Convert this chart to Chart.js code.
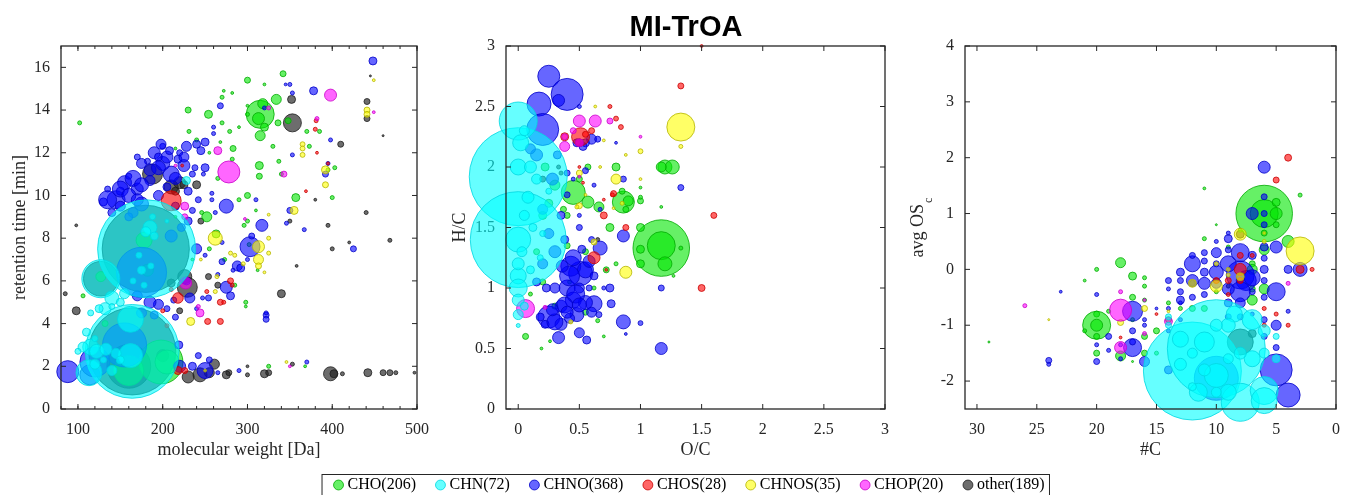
<!DOCTYPE html>
<html>
<head>
<meta charset="utf-8">
<script src="https://cdn.jsdelivr.net/npm/chart.js"></script>
<style>
  body { margin: 0; background: #fff; }
  #wrap { position: relative; width: 1351px; height: 495px; overflow: hidden; }
  canvas { position: absolute; top: 0; }
</style>
</head>
<body>
<div id="wrap">
  <canvas id="head" width="1330" height="60" style="left:21px"></canvas>
  <canvas id="foot" width="1330" height="503" style="left:26px"></canvas>
  <canvas id="p1" width="440" height="470" style="left:0"></canvas>
  <canvas id="p2" width="460" height="470" style="left:440px"></canvas>
  <canvas id="p3" width="451" height="470" style="left:900px"></canvas>
</div>
<script>
// groups (legend order)
const groupNames = ['CHO(206)', 'CHN(72)', 'CHNO(368)', 'CHOS(28)', 'CHNOS(35)', 'CHOP(20)', 'other(189)'];

// panel 1: [molecular weight, retention time, intensity]
const rtCHO = [[315,13.8,196],[318,14.3,25],[313,13.6,36],[315,12.8,25],[320,13.2,16],[334,14.5,25],[342,15.7,9],[300,15.4,9],[254,13.8,16],[230,14.0,9],[231,13.0,4],[270,14.6,4],[272,14.9,2],[282,14.8,2],[102,13.4,4],[336,13.4,9],[348,13.5,9],[314,11.4,16],[314,10.9,9],[357,9.9,16],[330,12.3,4],[337,11.6,4],[340,11.0,4],[283,12.2,9],[282,11.7,4],[279,13.0,4],[300,13.8,4],[290,9.8,4],[300,10.0,9],[252,9.0,25],[263,8.2,16],[296,8.6,4],[302,7.7,4],[273,7.0,4],[255,7.5,4],[298,5.0,4],[285,5.8,4],[370,13.0,4],[385,13.0,4],[373,12.3,4],[395,11.2,4],[403,11.3,4],[400,9.9,4],[106,5.3,4],[215,12.2,2],[240,12.6,4],[265,10.8,4],[246,9.2,4],[198,2.2,480],[160,1.8,225],[205,2.2,144],[178,7.9,64],[182,6.5,36],[127,6.2,25],[132,4.0,9],[300,8.8,4],[310,9.3,2],[325,2.0,4],[368,2.0,2],[268,12.5,2],[270,13.4,4],[290,13.2,2],[255,12.0,2],[300,14.2,2],[320,15.2,2],[312,6.5,2],[298,4.8,2],[235,7.0,2],[215,9.0,2]];
const rtCHN = [[181,7.5,2400],[164,2.7,2200],[127,6.1,361],[162,4.2,169],[113,1.7,169],[162,2.5,144],[140,5.2,49],[132,4.7,36],[115,2.9,64],[122,2.7,49],[133,2.8,36],[145,2.6,25],[185,8.5,49],[180,8.3,25],[190,8.1,16],[175,6.5,16],[165,6.0,9],[186,6.7,9],[155,5.4,25],[150,5.0,16],[125,4.7,16],[106,2.9,25],[110,3.6,16],[120,2.1,25],[140,1.8,25],[228,10.7,16],[172,7.2,9],[178,5.8,9],[150,2.3,16],[130,2.3,9],[100,2.7,9],[120,3.3,9],[140,4.8,9],[115,4.5,9],[205,8.8,4],[188,9.0,9]];
const rtCHNO = [[88,1.75,121],[114,1.6,100],[250,1.8,64],[303,7.6,100],[275,9.5,49],[145,9.8,81],[155,10.6,49],[170,10.3,36],[185,10.7,25],[190,12.0,36],[200,11.5,49],[210,11.0,64],[225,11.4,36],[228,12.3,25],[240,12.4,16],[245,12.1,16],[218,11.7,16],[200,12.3,9],[182,11.6,9],[160,10.9,9],[175,9.6,49],[165,9.2,25],[150,9.5,25],[140,9.2,16],[195,10.0,25],[205,10.4,16],[210,8.1,36],[175,6.4,625],[155,3.0,484],[120,2.2,225],[235,2.0,16],[242,2.5,9],[255,2.3,9],[220,2.0,36],[219,3.0,16],[265,1.7,4],[290,1.8,4],[370,2.2,4],[275,5.7,36],[280,5.3,16],[288,6.7,25],[292,6.6,16],[322,4.4,9],[322,4.2,9],[254,5.2,9],[270,6.9,9],[247,5.2,4],[265,6.3,4],[232,5.2,25],[228,6.0,16],[240,7.5,25],[270,7.8,4],[310,9.8,4],[317,8.6,36],[305,8.1,9],[346,8.7,4],[350,9.3,9],[367,8.4,4],[425,7.5,9],[392,11.0,9],[398,12.6,4],[353,11.9,4],[378,14.9,16],[448,16.3,16],[350,15.2,4],[238,11.3,9],[250,11.3,16],[260,13.2,4],[260,12.9,4],[250,12.5,16],[268,14.2,9],[258,10.1,4],[258,9.8,4],[262,9.2,4],[242,9.8,9],[230,8.8,16],[235,9.3,9],[215,4.3,9],[213,5.1,9],[205,4.7,9],[195,4.9,25],[185,5.0,36],[170,5.3,25],[175,4.5,25],[190,4.4,16],[220,12.0,9],[235,11.0,9],[230,10.2,16],[215,9.5,16],[222,8.5,16],[160,9.0,16],[130,9.7,16],[135,10.3,9],[150,10.2,16],[170,11.8,9],[195,11.8,16],[248,11.0,4],[283,6.5,4],[322,4.5,4],[345,15.2,2],[320,14.1,4],[353,14.8,4],[395,11.5,4],[240,4.7,4],[250,7.2,4],[300,7.0,4],[135,9.8,81],[150,10.3,64],[160,10.0,49],[165,10.8,64],[175,10.5,49],[185,11.2,36],[195,11.3,49],[205,11.8,36],[198,12.4,25],[175,11.5,25],[170,9.8,36],[215,10.8,36],[225,11.8,25],[208,12.1,16]];
const rtCHOS = [[210,9.75,100],[218,5.2,28],[218,1.8,16],[226,1.8,9],[253,4.1,9],[268,4.1,9],[268,5.0,9],[272,5.0,4],[252,5.5,4],[280,6.0,9],[282,5.8,4],[200,4.6,4],[380,13.1,4],[381,13.5,4],[369,10.2,2],[395,11.5,2],[382,12.0,2],[223,11.4,2],[210,5.6,4],[205,3.9,4]];
const rtCHNOS = [[262,8.0,49],[313,7.6,36],[313,7.0,25],[313,6.7,9],[355,9.3,16],[392,11.2,16],[392,10.5,9],[365,12.4,6],[365,12.2,6],[365,11.9,6],[441,14.0,9],[441,13.8,9],[449,15.4,2],[233,4.1,16],[285,7.2,4],[325,8.0,4],[325,7.3,4],[280,7.3,4],[320,6.4,2],[346,2.2,2],[250,1.8,2],[262,5.5,4],[264,6.2,4],[295,6.8,4],[325,9.1,2],[245,7.0,2]];
const rtCHOP = [[278,11.1,121],[398,14.7,36],[265,12.1,16],[343,11.0,9],[244,4.5,16],[226,9.5,16],[226,9.0,9],[227,5.9,36],[325,14.1,4],[382,13.6,4],[449,13.9,2],[350,2.0,2],[297,8.9,2],[242,4.8,4],[215,11.4,2]];
const rtOther = [[180,7.5,1900],[164,2.7,1900],[160,2.0,480],[127,6.1,300],[188,11.0,100],[210,10.4,49],[353,13.4,81],[352,14.5,16],[441,14.4,9],[441,13.6,9],[410,12.4,9],[229,5.7,100],[226,6.2,49],[98,4.6,16],[85,5.4,4],[98,8.6,2],[240,10.5,16],[220,10.6,36],[245,8.8,9],[254,6.2,9],[265,5.8,9],[340,5.4,16],[358,6.7,2],[380,9.8,2],[395,8.6,4],[400,7.5,4],[440,9.2,4],[468,7.9,4],[420,7.8,2],[350,8.8,4],[244,1.6,49],[255,1.7,25],[275,1.6,16],[278,1.7,9],[261,2.1,25],[300,1.6,4],[320,1.65,16],[325,1.7,9],[398,1.65,49],[402,1.65,16],[442,1.7,16],[460,1.7,9],[468,1.7,9],[475,1.7,4],[497,1.7,2],[300,2.0,2],[353,2.1,4],[412,1.65,4],[230,1.5,36],[200,2.5,36],[215,10.2,16],[225,10.5,16],[445,15.6,1],[460,12.8,1],[210,5.9,16],[220,4.6,9]];

// panel 2: [O/C, H/C, intensity]
const vkCHO = [[1.17,1.33,800],[1.17,1.35,196],[1.2,1.2,49],[1.0,1.5,16],[1.0,1.32,16],[1.0,1.2,16],[1.33,1.33,4],[1.27,1.1,2],[1.17,1.67,2],[0.86,1.71,121],[0.45,1.79,144],[0.57,1.71,36],[0.66,1.67,25],[1.2,2.0,49],[1.26,2.0,49],[1.17,2.0,25],[0.8,2.0,16],[0.9,1.72,25],[1.0,1.72,9],[0.06,0.6,9],[0.19,0.5,2],[0.26,0.56,2],[0.4,1.6,9],[0.37,1.65,9],[0.55,1.3,9],[0.72,1.15,9],[0.75,1.5,16],[0.8,1.2,4],[0.3,0.85,9],[0.65,0.73,4],[0.7,0.6,2],[0.55,0.8,9],[0.5,1.9,9],[0.57,2.0,9],[0.3,1.85,25],[0.25,1.7,16],[0.2,1.6,16],[0.22,2.0,16],[0.15,1.3,9],[0.2,1.05,9],[0.4,1.35,9],[0.42,1.05,4],[0.62,1.0,4],[0.85,1.8,9],[0.88,1.65,9],[1.0,1.75,4],[1.0,1.83,2],[0.1,0.95,4]];
const vkCHN = [[0.0,1.92,2400],[0.0,1.40,2300],[0.0,2.38,361],[0.0,1.4,156],[0.02,2.2,64],[0.0,1.1,64],[0.0,1.0,81],[0.0,0.9,36],[0.0,0.78,25],[0.0,0.69,4],[0.0,2.0,64],[0.1,2.0,36],[0.0,1.2,36],[0.05,1.6,25],[0.08,1.75,36],[0.15,1.9,25],[0.12,1.5,16],[0.05,2.3,25],[0.2,1.45,9],[0.1,1.15,16],[0.03,1.3,25],[0.25,1.8,9],[0.18,1.25,9],[0.05,0.85,16]];
const vkCHNO = [[0.25,2.75,121],[0.4,2.6,256],[0.17,2.52,144],[0.2,2.31,256],[0.33,2.55,36],[0.51,1.12,144],[0.43,1.18,100],[0.55,1.15,64],[0.4,1.0,64],[0.45,0.9,64],[0.62,0.87,64],[0.55,0.88,49],[0.48,0.78,49],[0.25,0.76,121],[0.35,0.7,36],[0.33,0.59,36],[0.5,0.63,25],[0.56,0.57,16],[0.6,0.8,25],[0.18,0.76,16],[0.22,0.7,16],[0.3,1.0,25],[0.23,1.0,16],[0.5,1.0,25],[0.52,1.32,16],[0.67,1.33,49],[0.86,1.43,36],[0.86,0.72,49],[0.76,0.87,16],[0.75,1.0,16],[0.66,0.78,9],[1.17,0.5,36],[1.17,1.0,9],[1.0,0.71,6],[1.33,1.83,9],[0.88,0.62,2],[0.5,1.5,9],[0.5,1.6,4],[0.62,1.85,4],[0.55,1.97,9],[0.6,1.4,9],[0.48,2.2,16],[0.6,2.23,25],[0.55,2.2,16],[0.53,2.17,16],[0.65,2.23,9],[0.8,2.2,2],[0.67,1.65,4],[0.86,1.9,9],[0.45,1.9,4],[0.4,1.95,9],[0.5,2.5,4],[0.4,1.77,9],[0.3,1.3,36],[0.25,1.45,25],[0.2,1.65,25],[0.28,1.9,36],[0.15,2.1,36],[0.1,2.15,25],[0.32,2.1,16],[0.35,1.6,16],[0.38,1.4,16],[0.2,1.2,25],[0.15,1.05,16],[0.35,0.85,36],[0.42,0.75,25],[0.58,1.0,9],[0.7,1.0,4],[0.42,1.1,100],[0.47,0.95,81],[0.38,0.86,64],[0.5,0.86,49],[0.45,1.25,64],[0.36,1.18,36],[0.4,0.8,36],[0.3,0.72,64],[0.28,0.82,36],[0.58,1.22,36],[0.62,1.1,16]];
const vkCHOS = [[0.51,2.25,81],[0.38,2.25,16],[1.33,2.67,9],[1.5,3.0,2],[1.6,1.6,9],[1.5,1.0,12],[0.62,1.25,36],[0.7,1.6,12],[0.78,1.78,9],[0.88,1.5,9],[0.8,2.4,6],[0.84,2.33,6],[0.75,2.5,4],[0.7,1.73,2],[0.5,2.0,2],[0.55,2.27,9],[0.6,2.3,9],[0.72,1.15,2],[0.53,1.87,2],[0.77,1.77,4]];
const vkCHNOS = [[1.33,2.33,196],[0.88,1.13,36],[0.8,1.9,25],[0.62,1.38,9],[1.33,2.17,4],[1.0,2.13,6],[0.88,2.1,2],[0.63,2.5,2],[0.7,2.22,2],[0.5,1.68,9],[0.48,1.67,4],[0.78,1.66,2],[1.0,1.9,2],[0.5,1.95,9],[0.43,0.72,4],[0.67,2.0,2],[0.55,1.77,2],[0.85,1.7,4]];
const vkCHOP = [[0.06,0.83,81],[0.5,2.38,36],[0.63,2.38,36],[0.75,2.38,9],[0.38,2.17,25],[0.38,2.25,9],[1.0,2.25,2],[0.5,1.92,2],[0.22,0.84,4],[0.45,2.3,9],[0.5,2.2,16]];
const vkOther = [[0.33,2.0,4],[0.35,1.95,4],[0.65,1.4,4],[0.5,2.2,16],[0.2,1.9,9]];

// panel 3: [#C, avg OSc, intensity]
const osCHO = [[6,1.0,800],[6,1.0,196],[5,1.0,36],[5,1.2,16],[18,0.12,25],[17,-0.12,16],[16,-0.15,4],[16,-0.3,4],[14,-0.9,9],[15,-1.1,9],[16,-1.2,9],[16,-1.5,9],[18,-1.55,25],[17,-0.5,9],[20,0.0,4],[21,-0.2,2],[29,-1.3,1],[20,-1.5,9],[20,-0.8,9],[20,-1.0,196],[20,-1.0,36],[11,0.55,4],[11,1.45,2],[10,0.8,1],[7,0.1,9],[7,-0.35,9],[7,-0.55,25],[6,-0.35,25],[6,0.35,25],[4,0.5,36],[3,1.33,4],[5,0.8,9],[13,-0.7,4],[16,-0.55,4],[17,-1.65,1],[19,-0.75,4],[17,-0.9,4],[15,-1.5,4],[14,-0.6,4],[11,-0.7,9],[9,0.4,4],[8,0.7,4],[7,0.0,25],[12,-0.7,9],[10,-0.4,4],[6,0.65,9],[20,-1.2,9],[21,-1.1,4]];
const osCHN = [[12,-1.82,2400],[10,-1.42,2400],[10,-1.9,144],[8,-2.38,361],[6,-2.17,196],[6,-2.35,169],[7,-0.9,100],[6,-1.1,36],[8.5,-0.8,64],[11,-1.3,100],[13,-1.7,36],[11.5,-2.2,81],[9,-2.2,64],[7,-1.6,64],[5,-1.6,16],[14,-1.0,9],[14,-0.85,9],[8,-1.5,36],[13,-1.25,64],[9,-1.0,49],[10,-1.0,36],[12,-1.5,25],[11,-1.8,36],[9,-1.6,25],[6,-1.5,25],[5,-1.2,9],[10,-2.2,25],[12,-2.1,16]];
const osCHNO = [[5,-1.8,256],[4,-2.25,144],[6,1.83,36],[7,1.0,36],[6,1.3,9],[6,0.8,9],[5,0.4,36],[3,0.0,49],[4,0.0,16],[5,-0.4,81],[6,0.2,9],[6,0.0,16],[6,-0.2,9],[6,-0.5,9],[5,-1.0,25],[5,-1.4,9],[6,-1.2,9],[6,-0.9,9],[7,-0.4,9],[7,-0.8,4],[8,0.3,81],[8,-0.1,196],[7.5,-0.2,100],[8,-0.4,100],[8,-0.6,25],[9,0.1,64],[9,-0.35,36],[9,0.55,16],[9,0.35,9],[9,0.65,4],[10,0.3,25],[10,-0.05,49],[10,-0.25,25],[10,0.5,4],[11,-0.25,36],[11,0.15,9],[11,0.3,9],[11,-0.45,9],[12,0.1,64],[12,-0.2,36],[12,-0.5,9],[13,-0.05,16],[13,-0.2,9],[13,-0.4,9],[13,-0.55,16],[14,-0.2,9],[14,-0.35,4],[14,-0.7,4],[15,-0.7,2],[17,-0.75,100],[17,-1.4,81],[17,-1.1,9],[17,-1.3,9],[16,-1.65,25],[18,-1.6,4],[20,-1.65,9],[20,-1.35,4],[20,-0.45,4],[19,-1.2,9],[24,-1.63,9],[24,-1.7,4],[23,-0.4,2],[14,-1.8,16],[13,-0.6,4],[6,1.0,9],[4,-0.75,4],[6,0.4,16],[10,-1.95,484],[7,0.25,16],[7,-0.15,64],[8,-0.85,9],[9,-0.6,16],[11,-0.05,16],[12,0.25,9],[10,0.1,9],[9,-0.85,9],[16,-0.9,4],[16,-1.0,4],[14,-1.1,4],[13,-0.9,4],[19,-1.45,4],[18,-1.35,4]];
const osCHOS = [[4,2.0,12],[5,1.6,9],[8,0.0,36],[8,0.25,9],[9,-0.2,9],[10,-0.2,9],[9,-0.45,4],[3,0.0,16],[2,0.0,4],[4,-1.0,4],[5,-0.8,4],[6,-0.7,4],[6,-1.0,4],[18,-1.22,2],[15,-0.8,2],[7,0.25,4],[8,-0.2,9]];
const osCHNOS = [[3,0.33,196],[8,0.63,36],[8,-0.13,16],[10,-0.3,36],[9,-0.1,4],[16,-0.7,9],[12,-0.25,16],[10,0.1,4],[6,0.5,4],[6,0.65,2],[18,-0.95,9],[14,-0.75,2],[24,-0.9,1],[9,0.0,4]];
const osCHOP = [[18,-0.73,121],[18,-1.4,36],[14,-0.93,16],[26,-0.65,4],[18,-0.4,4],[16,-1.15,4],[4,-0.25,4],[16,-0.55,2]];
const osOther = [[8,-1.3,169],[7,-1.15,16],[8,0.63,16],[12,-0.25,9],[9,-0.3,4]];

// styles
const ink = '#262626';
const serif = '"Liberation Serif", "Times New Roman", serif';
Chart.defaults.font.family = serif;
Chart.defaults.color = ink;
const fills = ['rgba(0,230,0,0.6)', 'rgba(0,255,255,0.6)', 'rgba(0,0,255,0.6)', 'rgba(255,0,0,0.6)',
               'rgba(255,255,0,0.6)', 'rgba(255,0,255,0.6)', 'rgba(30,30,30,0.65)'];
const edges = ['rgba(0,170,0,0.8)', 'rgba(0,215,225,0.8)', 'rgba(0,0,200,0.8)', 'rgba(200,0,0,0.8)',
               'rgba(180,180,0,0.8)', 'rgba(200,0,200,0.8)', 'rgba(30,30,30,0.8)'];
const drawOrder = [5, 0, 4, 3, 2, 1, 6]; // lower = drawn on top

function pts(arr) {
  return arr.map(([x, y, s]) => ({ x, y, r: Math.sqrt(s) }));
}

// box + inward ticks on all four sides, like the original figure
const frameTicks = {
  id: 'frameTicks',
  afterDatasetsDraw(chart, args, opts) {
    const { ctx, chartArea: a } = chart;
    const sx = chart.scales.x, sy = chart.scales.y;
    ctx.save();
    ctx.strokeStyle = ink;
    ctx.lineWidth = 1;
    ctx.beginPath();
    const tickX = (v, len) => {
      const p = sx.getPixelForValue(v);
      ctx.moveTo(p, a.bottom); ctx.lineTo(p, a.bottom - len);
      ctx.moveTo(p, a.top); ctx.lineTo(p, a.top + len);
    };
    const tickY = (v, len) => {
      const p = sy.getPixelForValue(v);
      ctx.moveTo(a.left, p); ctx.lineTo(a.left + len, p);
      ctx.moveTo(a.right, p); ctx.lineTo(a.right - len, p);
    };
    sx.ticks.forEach(t => tickX(t.value, 5));
    sy.ticks.forEach(t => tickY(t.value, 5));
    if (opts.minorX) {
      for (let v = sx.min; v <= sx.max; v += opts.minorX) tickX(v, 3);
    }
    ctx.stroke();
    ctx.lineWidth = 1.3;
    ctx.strokeRect(a.left, a.top, a.right - a.left, a.bottom - a.top);
    ctx.restore();
  },
  afterDraw(chart, args, opts) {
    if (!opts.subTitle) return;
    // y title with a subscript: "avg OS" + "c"
    const { ctx, chartArea: a } = chart;
    ctx.save();
    ctx.fillStyle = ink;
    ctx.font = '18px ' + serif;
    const w1 = ctx.measureText(opts.subTitle[0]).width;
    ctx.font = '12px ' + serif;
    const w2 = ctx.measureText(opts.subTitle[1]).width;
    const cy = (a.top + a.bottom) / 2;
    ctx.translate(23, cy + (w1 + w2 + 1) / 2);
    ctx.rotate(-Math.PI / 2);
    ctx.textBaseline = 'alphabetic';
    ctx.textAlign = 'left';
    ctx.font = '18px ' + serif;
    ctx.fillText(opts.subTitle[0], 0, 0);
    ctx.font = '12px ' + serif;
    ctx.fillText(opts.subTitle[1], w1 + 1, 9);
    ctx.restore();
  }
};

function makePanel(id, sets, cfg) {
  const datasets = sets.map((arr, i) => ({
    label: groupNames[i],
    data: pts(arr),
    backgroundColor: fills[i],
    borderColor: edges[i],
    borderWidth: 1,
    order: drawOrder[i],
    clip: false
  }));
  const tickFont = { family: serif, size: 16 };
  const titleFont = { family: serif, size: 18 };
  const fmt = v => String(v);
  return new Chart(document.getElementById(id), {
    type: 'bubble',
    data: { datasets },
    options: {
      responsive: false,
      animation: false,
      events: [],
      layout: { autoPadding: false, padding: { left: 0, top: 46, right: cfg.padRight, bottom: 9 } },
      plugins: {
        legend: { display: false },
        tooltip: { enabled: false },
        frameTicks: { minorX: cfg.minorX || 0, subTitle: cfg.subTitle || null }
      },
      scales: {
        x: {
          type: 'linear', position: 'bottom',
          min: cfg.x.min, max: cfg.x.max, reverse: !!cfg.x.reverse,
          grid: { display: false, drawTicks: false },
          border: { display: false },
          ticks: { stepSize: cfg.x.step, includeBounds: false, padding: 11, color: ink, font: tickFont, maxRotation: 0, autoSkip: false, callback: fmt },
          title: { display: true, text: cfg.x.title, color: ink, font: titleFont, padding: 0 },
          afterFit: s => { s.height = 52; }
        },
        y: {
          type: 'linear', position: 'left',
          min: cfg.y.min, max: cfg.y.max,
          grid: { display: false, drawTicks: false },
          border: { display: false },
          ticks: { stepSize: cfg.y.step, includeBounds: false, padding: 11, color: ink, font: tickFont, autoSkip: false, callback: fmt },
          title: { display: !!cfg.y.title, text: cfg.y.title || '', color: ink, font: titleFont, padding: { top: 9, bottom: 0 } },
          afterFit: s => { s.width = cfg.yWidth; }
        }
      }
    },
    plugins: [frameTicks]
  });
}

makePanel('p1', [rtCHO, rtCHN, rtCHNO, rtCHOS, rtCHNOS, rtCHOP, rtOther], {
  x: { min: 80, max: 500, step: 100, title: 'molecular weight [Da]' },
  y: { min: 0, max: 17, step: 2, title: 'retention time [min]' },
  yWidth: 61, padRight: 14, minorX: 20
});

makePanel('p2', [vkCHO, vkCHN, vkCHNO, vkCHOS, vkCHNOS, vkCHOP, vkOther], {
  x: { min: -0.1, max: 3, step: 0.5, title: 'O/C' },
  y: { min: 0, max: 3, step: 0.5, title: 'H/C' },
  yWidth: 66, padRight: 14
});

makePanel('p3', [osCHO, osCHN, osCHNO, osCHOS, osCHNOS, osCHOP, osOther], {
  x: { min: 0, max: 31, step: 5, reverse: true, title: '#C' },
  y: { min: -2.5, max: 4, step: 1, title: '' },
  yWidth: 65, padRight: 6, subTitle: ['avg OS', 'c']
});

// figure title
new Chart(document.getElementById('head'), {
  type: 'bubble',
  data: { datasets: [] },
  options: {
    responsive: false, animation: false, events: [],
    scales: { x: { display: false }, y: { display: false } },
    plugins: {
      legend: { display: false },
      tooltip: { enabled: false },
      title: {
        display: true, text: 'MI-TrOA', color: '#000',
        font: { family: '"Liberation Sans", Arial, sans-serif', size: 29, weight: 'bold' },
        padding: { top: 11, bottom: 0 }
      }
    }
  }
});

// boxed legend under the middle panel
const legendBox = {
  id: 'legendBox',
  afterDraw(chart) {
    const hb = chart.legend && chart.legend.legendHitBoxes;
    if (!hb || !hb.length) return;
    const first = hb[0], last = hb[hb.length - 1];
    const cy = first.top + first.height / 2;
    const x1 = first.left - 15.5, x2 = last.left + last.width + 5;
    const ctx = chart.ctx;
    ctx.save();
    ctx.strokeStyle = ink;
    ctx.lineWidth = 1;
    ctx.strokeRect(x1, cy - 10.5, x2 - x1, 21);
    ctx.restore();
  }
};

new Chart(document.getElementById('foot'), {
  type: 'bubble',
  data: {
    datasets: groupNames.map((g, i) => ({
      label: g, data: [], backgroundColor: fills[i], borderColor: edges[i], borderWidth: 1
    }))
  },
  options: {
    responsive: false, animation: false, events: [],
    layout: { padding: 0 },
    scales: { x: { display: false }, y: { display: false } },
    plugins: {
      tooltip: { enabled: false },
      legend: {
        position: 'bottom',
        labels: {
          usePointStyle: true, pointStyle: 'circle', boxWidth: 2, boxHeight: 7, padding: 23.5,
          color: '#000', font: { family: serif, size: 16 }
        }
      }
    }
  },
  plugins: [legendBox]
});
</script>
</body>
</html>
